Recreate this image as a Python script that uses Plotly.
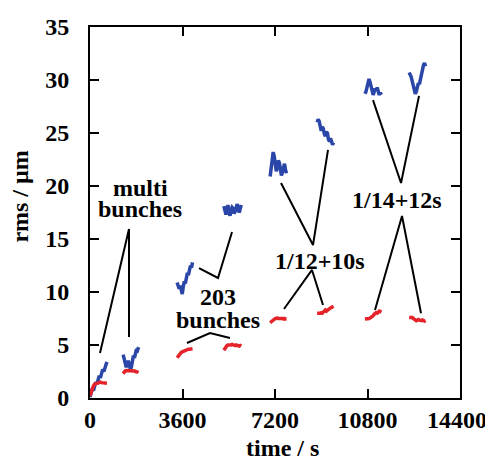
import plotly.graph_objects as go

# ---- data (time in s, rms in um) ----
seg1_t = [0, 45, 90, 135, 180, 225, 270, 315, 360, 405, 450, 495, 540, 585, 630, 660]
seg1_blue = [0.1, 0.5, 0.9, 0.7, 1.2, 1.5, 1.3, 1.8, 2.1, 1.9, 2.4, 2.7, 2.5, 3.0, 3.2, 3.4]
seg1_red = [0.2, 0.6, 0.95, 1.15, 1.3, 1.35, 1.4, 1.45, 1.45, 1.5, 1.45, 1.45, 1.4, 1.45, 1.4, 1.4]

seg2_t = [1290, 1330, 1370, 1410, 1450, 1490, 1530, 1570, 1610, 1650, 1690, 1730, 1770, 1810, 1850, 1890]
seg2_blue = [4.1, 3.8, 3.3, 2.9, 3.2, 3.5, 3.2, 2.7, 2.9, 3.6, 4.0, 3.8, 4.4, 4.6, 4.5, 4.8]
seg2_red = [2.3, 2.45, 2.55, 2.6, 2.6, 2.6, 2.55, 2.55, 2.6, 2.6, 2.55, 2.55, 2.5, 2.5, 2.45, 2.4]

seg3_t = [3390, 3430, 3470, 3510, 3550, 3590, 3630, 3670, 3710, 3750, 3790, 3830, 3870, 3910, 3950, 3990]
seg3_blue = [10.9, 10.6, 10.3, 10.6, 10.0, 9.8, 10.5, 11.0, 10.8, 11.5, 11.8, 11.6, 12.2, 12.5, 12.3, 12.8]
seg3_red = [3.8, 3.95, 4.1, 4.2, 4.3, 4.35, 4.4, 4.45, 4.5, 4.5, 4.55, 4.6, 4.6, 4.6, 4.65, 4.65]

seg4_t = [5210, 5250, 5290, 5330, 5370, 5410, 5450, 5490, 5530, 5570, 5610, 5650, 5690, 5730, 5770, 5810, 5850, 5890]
seg4_blue = [18.1, 17.6, 17.3, 17.8, 18.2, 17.5, 17.2, 17.7, 18.0, 17.9, 17.4, 17.6, 18.1, 18.3, 17.8, 17.5, 17.9, 18.2]
seg4_red = [4.5, 4.7, 4.85, 4.95, 5.0, 5.0, 4.95, 5.0, 5.05, 5.0, 4.95, 4.95, 5.0, 4.95, 4.9, 4.9, 4.95, 4.9]

seg5_t = [7010, 7050, 7090, 7130, 7170, 7210, 7250, 7290, 7330, 7370, 7410, 7450, 7490, 7530, 7570, 7610, 7650]
seg5_blue = [20.9, 21.6, 22.4, 23.2, 22.8, 22.0, 21.4, 21.7, 22.4, 22.2, 21.6, 21.0, 21.3, 21.9, 22.1, 21.5, 21.2]
seg5_red = [7.1, 7.2, 7.3, 7.4, 7.45, 7.5, 7.5, 7.55, 7.5, 7.5, 7.55, 7.5, 7.5, 7.45, 7.5, 7.45, 7.45]

seg6_t = [8840, 8880, 8920, 8960, 9000, 9040, 9080, 9120, 9160, 9200, 9240, 9280, 9320, 9360, 9400, 9440, 9480]
seg6_blue = [26.0, 26.3, 26.1, 25.4, 25.2, 25.6, 25.4, 24.9, 24.7, 25.1, 25.0, 24.4, 24.2, 24.5, 24.2, 23.9, 24.1]
seg6_red = [8.0, 8.0, 7.95, 8.0, 8.05, 8.0, 8.1, 8.25, 8.3, 8.2, 8.3, 8.4, 8.5, 8.5, 8.55, 8.6, 8.65]

seg7_t = [10700, 10740, 10780, 10820, 10860, 10900, 10940, 10980, 11020, 11060, 11100, 11140, 11180, 11220, 11260, 11300, 11340]
seg7_blue = [28.7, 28.9, 29.3, 29.7, 30.1, 29.8, 29.4, 28.9, 28.6, 28.9, 29.2, 29.0, 29.3, 28.9, 28.6, 28.8, 28.6]
seg7_red = [7.45, 7.45, 7.5, 7.45, 7.5, 7.55, 7.6, 7.7, 7.75, 7.9, 8.0, 8.05, 8.0, 8.1, 8.2, 8.15, 8.1]

seg8_t = [12420, 12460, 12500, 12540, 12580, 12620, 12660, 12700, 12740, 12780, 12820, 12860, 12900, 12940, 12980, 13020, 13060]
seg8_blue = [30.7, 30.5, 30.3, 29.9, 29.5, 29.0, 28.7, 28.9, 29.3, 29.7, 29.6, 30.1, 30.6, 30.9, 31.4, 31.6, 31.3]
seg8_red = [7.6, 7.6, 7.55, 7.6, 7.5, 7.45, 7.4, 7.3, 7.35, 7.4, 7.35, 7.3, 7.3, 7.35, 7.3, 7.25, 7.3]

segments = [
    (seg1_t, seg1_blue, seg1_red), (seg2_t, seg2_blue, seg2_red),
    (seg3_t, seg3_blue, seg3_red), (seg4_t, seg4_blue, seg4_red),
    (seg5_t, seg5_blue, seg5_red), (seg6_t, seg6_blue, seg6_red),
    (seg7_t, seg7_blue, seg7_red), (seg8_t, seg8_blue, seg8_red),
]

# pointer lines for labels
pointers_x = [
    [389, 1518, 1518],
    [4242, 4982, 5527],
    [3775, 4670, 5449],
    [7434, 8679, 9263],
    [7550, 8640, 9068],
    [11014, 12104, 12805],
    [11092, 12143, 12883],
]
pointers_y = [
    [4.25, 15.94, 5.75],
    [12.26, 11.32, 15.66],
    [5.19, 6.13, 5.66],
    [20.28, 14.43, 23.4],
    [8.4, 12.08, 8.77],
    [28.1, 20.28, 28.5],
    [8.3, 17.17, 8.0],
]

label_texts = ["multi", "bunches", "203", "bunches", "1/12+10s", "1/14+12s"]
label_x = [1946, 1946, 4982, 4982, 8952, 11949]
label_y = [19.8, 17.8, 9.5, 7.35, 12.95, 18.68]

x_ticks = [0, 3600, 7200, 10800, 14400]
x_ticktext = ["0", "3600", "7200", "10800", "14400\u00a0"]
y_ticks = [0, 5, 10, 15, 20, 25, 30, 35]

BLUE = "#2a46a8"
RED = "#e4232a"
FONT = "Liberation Serif"

fig = go.Figure()
for px, py in zip(pointers_x, pointers_y):
    fig.add_trace(go.Scatter(x=px, y=py, mode="lines",
                             line=dict(color="black", width=2), hoverinfo="skip"))
for t, b, r in segments:
    fig.add_trace(go.Scatter(x=t, y=b, mode="lines",
                             line=dict(color=BLUE, width=3.5)))
    fig.add_trace(go.Scatter(x=t, y=r, mode="lines",
                             line=dict(color=RED, width=3.5)))

for txt, x, y in zip(label_texts, label_x, label_y):
    fig.add_annotation(x=x, y=y, text=txt, showarrow=False,
                       font=dict(family=FONT, size=24, color="black", weight="bold"))

title_font = dict(family=FONT, size=24, color="black", weight="bold")
fig.add_annotation(xref="paper", yref="paper", x=0.519, y=-0.135, text="time / s",
                   showarrow=False, xanchor="center", yanchor="middle", font=title_font)
fig.add_annotation(xref="paper", yref="paper", x=-0.19, y=0.542, text="rms / µm",
                   showarrow=False, xanchor="center", yanchor="middle", textangle=-90,
                   font=title_font)

axis_common = dict(showline=True, linecolor="black", linewidth=2, mirror="allticks",
                   ticks="inside", ticklen=9, tickwidth=2, tickcolor="black",
                   showgrid=False, zeroline=False, automargin=False,
                   tickfont=dict(family=FONT, size=24, color="black", weight="bold"))

# page body has an 8px margin, so the figure is sized / offset to compensate
fig.update_layout(
    width=485, height=452,
    margin=dict(l=82, r=33, t=19, b=62),
    paper_bgcolor="white", plot_bgcolor="white",
    showlegend=False,
    xaxis=dict(range=[0, 14400], tickvals=x_ticks, ticktext=x_ticktext,
               ticklabelstandoff=-1, **axis_common),
    yaxis=dict(range=[0, 35], tickvals=y_ticks, ticktext=[str(v) for v in y_ticks],
               ticklabelstandoff=14, **axis_common),
)

fig.write_html("out.html")
